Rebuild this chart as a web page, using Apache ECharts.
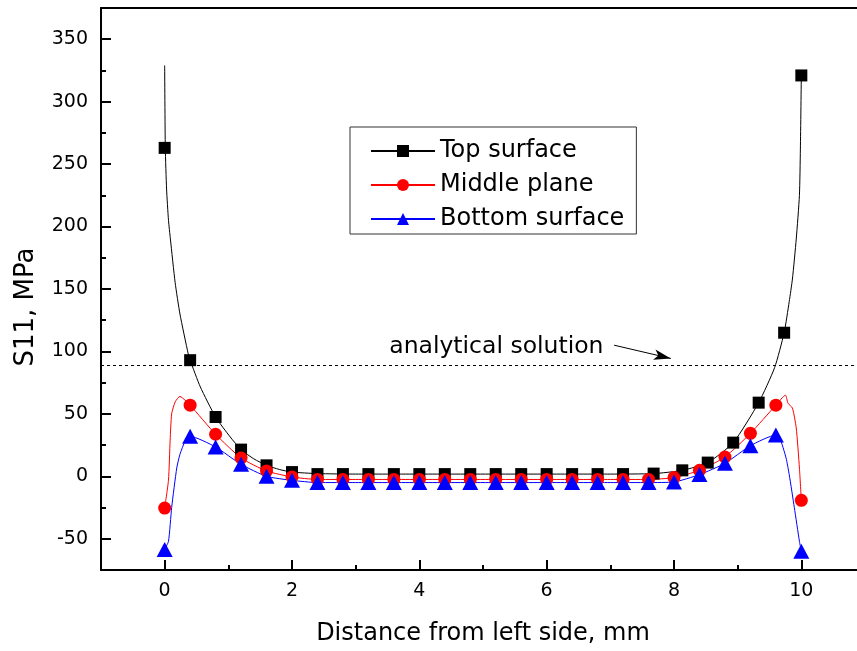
<!DOCTYPE html>
<html>
<head>
<meta charset="utf-8">
<script src="https://cdn.jsdelivr.net/npm/echarts@6/dist/echarts.min.js"></script>
<style>html,body{margin:0;padding:0;background:#fff;}#c{width:857px;height:651px;}</style>
</head>
<body>
<div id="c"></div>
<script>
// ---- data ----
const seriesNames = ['Top surface', 'Middle plane', 'Bottom surface'];

// markers
const topX = [0, 0.4, 0.8, 1.2, 1.6, 2.0, 2.4, 2.8, 3.2, 3.6, 4.0, 4.4, 4.8, 5.2, 5.6, 6.0, 6.4, 6.8, 7.2, 7.68, 8.13, 8.53, 8.93, 9.33, 9.73, 10];
const topY = [263, 93, 47.5, 21.4, 8.8, 3.4, 1.8, 1.8, 1.8, 1.8, 1.8, 1.8, 1.8, 1.8, 1.8, 1.8, 1.8, 1.8, 1.8, 2.2, 4.8, 11, 27, 59, 115, 321];

const midX = [0, 0.4, 0.8, 1.2, 1.6, 2.0, 2.4, 2.8, 3.2, 3.6, 4.0, 4.4, 4.8, 5.2, 5.6, 6.0, 6.4, 6.8, 7.2, 7.6, 8.0, 8.4, 8.8, 9.2, 9.6, 10];
const midY = [-25.4, 57, 33.7, 14.7, 4.3, -0.5, -2.5, -2.5, -2.5, -2.5, -2.5, -2.5, -2.5, -2.5, -2.5, -2.5, -2.5, -2.5, -2.5, -2.5, -1, 4.8, 15.5, 34.4, 57, -19.2];

const botX = [0, 0.4, 0.8, 1.2, 1.6, 2.0, 2.4, 2.8, 3.2, 3.6, 4.0, 4.4, 4.8, 5.2, 5.6, 6.0, 6.4, 6.8, 7.2, 7.6, 8.0, 8.4, 8.8, 9.2, 9.6, 10];
const botY = [-58.5, 32, 23.5, 9.6, 0, -3.2, -5, -5, -5, -5, -5, -5, -5, -5, -5, -5, -5, -5, -5, -5, -4.5, 1.4, 10.4, 24.5, 33, -60];

// curves
const topLineX = [0, 0.01, 0.03, 0.06, 0.09, 0.165, 0.24, 0.37, 0.4, 0.56, 0.8, 1.03, 1.2, 1.4, 1.6, 1.8, 2.0, 2.4, 3.0, 4.0, 5.0, 6.0, 7.0, 7.68, 8.13, 8.53, 8.93, 9.33, 9.58, 9.73, 9.81, 9.86, 9.92, 9.97, 9.985, 10];
const topLineY = [329, 263, 230, 205, 190, 155, 130, 98, 93, 71.6, 47.5, 31.5, 21.4, 14, 8.8, 5.5, 3.4, 2.2, 1.8, 1.8, 1.8, 1.8, 1.8, 2.2, 4.8, 11, 27, 59, 87, 115, 140, 158, 190, 225, 262, 321];

const midLineX = [0, 0.06, 0.086, 0.11, 0.165, 0.24, 0.32, 0.4, 0.8, 1.2, 1.6, 2.0, 2.4, 3.0, 4.0, 5.0, 6.0, 7.0, 7.6, 8.0, 8.4, 8.8, 9.2, 9.6, 9.75, 9.79, 9.86, 9.92, 9.97, 10];
const midLineY = [-25.4, -3, 29, 50, 59.6, 64, 61, 57, 33.7, 14.7, 4.3, -0.5, -2.5, -2.5, -2.5, -2.5, -2.5, -2.5, -2.5, -1, 4.8, 15.5, 34.4, 57, 65, 58.6, 54.7, 38.7, 6.7, -19.2];

const botLineX = [0, 0.06, 0.11, 0.19, 0.24, 0.32, 0.4, 0.8, 1.2, 1.6, 2.0, 2.4, 3.0, 4.0, 5.0, 6.0, 7.0, 7.6, 8.0, 8.4, 8.8, 9.2, 9.6, 9.66, 9.76, 9.81, 9.89, 9.97, 10];
const botLineY = [-58.5, -52, -25, 6.7, 17.6, 28, 32, 23.5, 9.6, 0, -3.2, -5, -5, -5, -5, -5, -5, -5, -4.5, 1.4, 10.4, 24.5, 33, 31, 14.7, 1.3, -25, -52, -60];

const analyticalValue = 89;
const arrowFrom = [7.06, 105];
const arrowTo = [7.95, 94.4];
const annotationAt = [5.21, 103.4];
const annotationText = 'analytical solution';

const xMajorTicks = [0, 2, 4, 6, 8, 10];
const xMinorTicks = [-1, 1, 3, 5, 7, 9];
const yMajorTicks = [-50, 0, 50, 100, 150, 200, 250, 300, 350];
const yMinorTicks = [-25, 25, 75, 125, 175, 225, 275, 325];

const xTitle = 'Distance from left side, mm';
const yTitle = 'S11, MPa';

// ---- chart ----
const zip = (xs, ys) => xs.map((x, i) => [x, ys[i]]);
const FONT = 'DejaVu Sans';
const gridBox = { left: 101, top: 8, width: 764, height: 562, outerBoundsMode: 'none', containLabel: false, show: false };

const chart = echarts.init(document.getElementById('c'), null, { renderer: 'canvas' });

const lineBase = (name, color, symbol, xs, ys) => ({
  name, type: 'line', xAxisIndex: 0, yAxisIndex: 0,
  data: zip(xs, ys),
  symbol, symbolSize: 12, showSymbol: false,
  smooth: 0.2,
  lineStyle: { color, width: 1 },
  itemStyle: { color },
  emphasis: { disabled: true },
  animation: false, z: 2
});
const scatterBase = (name, color, symbol, size, xs, ys) => ({
  name, type: 'scatter', xAxisIndex: 0, yAxisIndex: 0,
  data: zip(xs, ys),
  symbol, symbolSize: size,
  itemStyle: { color, opacity: 1 },
  emphasis: { disabled: true },
  animation: false, z: 3
});

const topLine = lineBase(seriesNames[0], '#000000', 'rect', topLineX, topLineY);
topLine.markLine = {
  silent: true, symbol: ['none', 'none'], animation: false,
  label: { show: false },
  lineStyle: { color: '#000', width: 1, type: [3, 3] },
  data: [{ yAxis: analyticalValue }]
};
const midLine = lineBase(seriesNames[1], '#ff0000', 'circle', midLineX, midLineY);
midLine.markLine = {
  silent: true, symbol: ['none', 'arrow'], symbolSize: [8, 17], animation: false,
  label: { show: false },
  lineStyle: { color: '#000', width: 1, type: 'solid' },
  data: [[{ coord: arrowFrom }, { coord: arrowTo }]]
};
const botLine = lineBase(seriesNames[2], '#0000ff', 'triangle', botLineX, botLineY);
botLine.markPoint = {
  silent: true, symbol: 'circle', symbolSize: 0, animation: false,
  label: { show: true, position: 'inside', formatter: annotationText, color: '#000', fontFamily: FONT, fontSize: 23.5 },
  data: [{ coord: annotationAt }]
};

const option = {
  backgroundColor: '#fff',
  animation: false,
  grid: [
    Object.assign({}, gridBox),
    Object.assign({}, gridBox)
  ],
  legend: {
    data: seriesNames,
    orient: 'vertical',
    left: 350, top: 127,
    padding: [12, 12, 3, 20],
    itemWidth: 64, itemHeight: 15, itemGap: 10,
    borderColor: '#333', borderWidth: 1, backgroundColor: '#fff',
    textStyle: { fontFamily: FONT, fontSize: 24, color: '#000' },
    selectedMode: false
  },
  xAxis: [
    {
      type: 'value', gridIndex: 0, min: -1, max: 11, position: 'bottom',
      axisLine: { show: true, onZero: false, lineStyle: { color: '#000', width: 2 } },
      axisTick: { show: true, inside: true, length: 10, customValues: xMajorTicks, lineStyle: { color: '#000', width: 2 } },
      axisLabel: { show: true, customValues: xMajorTicks, margin: 12, color: '#000', fontFamily: FONT, fontSize: 19 },
      splitLine: { show: false },
      name: xTitle, nameLocation: 'middle', nameGap: 52,
      nameTextStyle: { fontFamily: FONT, fontSize: 24, color: '#000' }
    },
    {
      type: 'value', gridIndex: 1, min: -1, max: 11, position: 'bottom',
      axisLine: { show: false, onZero: false },
      axisTick: { show: true, inside: true, length: 5, customValues: xMinorTicks, lineStyle: { color: '#000', width: 2 } },
      axisLabel: { show: false },
      splitLine: { show: false }
    },
    {
      type: 'value', gridIndex: 1, min: -1, max: 11, position: 'top',
      axisLine: { show: true, onZero: false, lineStyle: { color: '#000', width: 2 } },
      axisTick: { show: false },
      axisLabel: { show: false },
      splitLine: { show: false }
    }
  ],
  yAxis: [
    {
      type: 'value', gridIndex: 0, min: -75, max: 375, position: 'left',
      axisLine: { show: true, onZero: false, lineStyle: { color: '#000', width: 2 } },
      axisTick: { show: true, inside: true, length: 10, customValues: yMajorTicks, lineStyle: { color: '#000', width: 2 } },
      axisLabel: { show: true, customValues: yMajorTicks, margin: 13, color: '#000', fontFamily: FONT, fontSize: 19 },
      splitLine: { show: false },
      name: yTitle, nameLocation: 'middle', nameGap: 62, nameRotate: 90,
      nameTextStyle: { fontFamily: FONT, fontSize: 26, color: '#000', padding: [0, 36, 0, 0] }
    },
    {
      type: 'value', gridIndex: 1, min: -75, max: 375, position: 'left',
      axisLine: { show: false, onZero: false },
      axisTick: { show: true, inside: true, length: 5, customValues: yMinorTicks, lineStyle: { color: '#000', width: 2 } },
      axisLabel: { show: false },
      splitLine: { show: false }
    }
  ],
  series: [
    topLine, midLine, botLine,
    scatterBase(seriesNames[0], '#000000', 'rect', 12, topX, topY),
    scatterBase(seriesNames[1], '#ff0000', 'circle', 13, midX, midY),
    scatterBase(seriesNames[2], '#0000ff', 'triangle', [16, 15], botX, botY)
  ]
};
chart.setOption(option);
</script>
</body>
</html>
